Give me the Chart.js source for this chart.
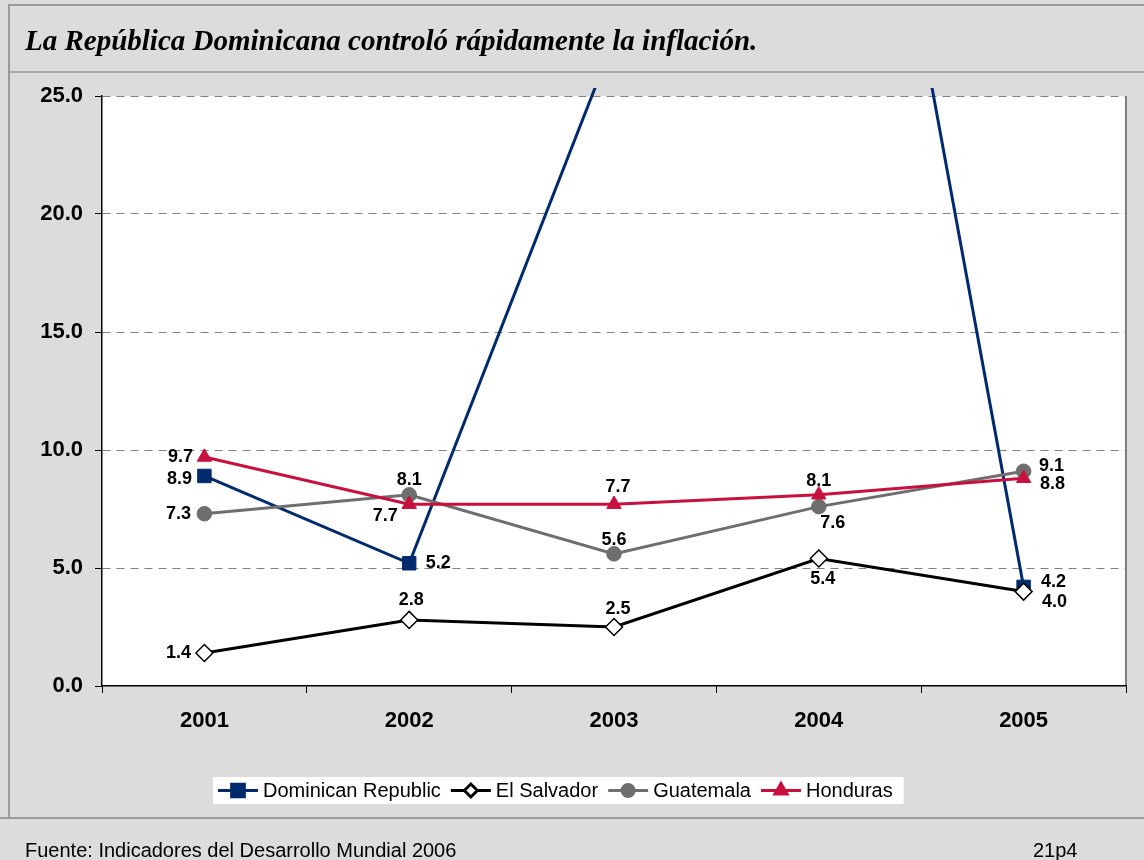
<!DOCTYPE html>
<html>
<head>
<meta charset="utf-8">
<script src="https://cdn.jsdelivr.net/npm/chart.js@4.4.1/dist/chart.umd.min.js"></script>
<style>
body{margin:0;background:#dcdcdc;width:1144px;height:860px;overflow:hidden;position:relative;font-family:"Liberation Sans",Arial,sans-serif}
#chartP{position:absolute;left:0;top:0}
#title{position:absolute;left:25px;top:26px;font:italic bold 29px/29px "Liberation Serif","Times New Roman",serif;color:#000;white-space:nowrap}
.foot{position:absolute;top:840px;font-size:20px;line-height:20px;color:#000;white-space:nowrap}
</style>
</head>
<body>
<canvas id="chartP" width="1144" height="860"></canvas>
<div id="title">La República Dominicana controló rápidamente la inflación.</div>
<div class="foot" style="left:25px">Fuente: Indicadores del Desarrollo Mundial 2006</div>
<div class="foot" style="left:1033px">21p4</div>
<script>
// data
var years=['2001','2002','2003','2004','2005'];
var seriesNames=['Dominican Republic','El Salvador','Guatemala','Honduras'];
var dominicanRep=[8.9,5.2,27.4,51.5,4.2];
var elSalvador=[1.4,2.8,2.5,5.4,4.0];
var guatemala=[7.3,8.1,5.6,7.6,9.1];
var honduras=[9.7,7.7,7.7,8.1,8.8];
var yTicks=[0,5,10,15,20,25];

var colors=['#002a6e','#000000','#6e6e6e','#c8103e'];
// where each value label sits relative to its point [dx,dy]
var labelOffsets=[
    [[-25,3],[29,0],null,null,[30,-5]],
    [[-26,0],[2,-20],[4,-18],[4,20],[31,10]],
    [[-26,0],[0,-15],[0,-14],[14,16],[28,-5]],
    [[-24,0],[-24,12],[4,-17],[0,-14],[29,6]]
];

var lineData=[dominicanRep,elSalvador,guatemala,honduras];
var pointStyles=['rect','rectRot','circle','triangle'];
var pointSizes=[9.5,8.5,7.3,8.3];
var datasets=[];
for(var i=0;i<seriesNames.length;i++){
    datasets.push({
        label:seriesNames[i],
        data:lineData[i],
        borderColor:colors[i],
        backgroundColor:i==1?'#ffffff':colors[i],
        pointBorderColor:colors[i],
        pointBackgroundColor:i==1?'#ffffff':colors[i],
        borderWidth:3,
        pointStyle:pointStyles[i],
        pointRadius:pointSizes[i],
        pointBorderWidth:i==1?1.5:1,
        tension:0,
        order:4-i,
        clip:{left:0,top:8,right:0,bottom:0}
    });
}

var framePlugin={
    id:'frame',
    beforeDraw:function(chart){
        var ctx=chart.ctx, a=chart.chartArea;
        ctx.save();
        ctx.fillStyle='#ffffff';
        ctx.fillRect(a.left,a.top,a.right-a.left,a.bottom-a.top);
        ctx.strokeStyle='#9a9a9a';
        ctx.lineWidth=2;
        ctx.beginPath();
        ctx.moveTo(9,818);ctx.lineTo(9,5);ctx.lineTo(1144,5);
        ctx.moveTo(0,818);ctx.lineTo(1144,818);
        ctx.stroke();
        ctx.lineWidth=1.5;
        ctx.beginPath();ctx.moveTo(9,72);ctx.lineTo(1144,72);ctx.stroke();
        ctx.strokeStyle='#808080';
        ctx.lineWidth=2;
        ctx.beginPath();ctx.moveTo(a.right,a.top);ctx.lineTo(a.right,a.bottom);ctx.stroke();
        ctx.restore();
    }
};

var labelPlugin={
    id:'valueLabels',
    afterDatasetsDraw:function(chart){
        var ctx=chart.ctx, ymax=chart.scales.y.max;
        ctx.save();
        ctx.font='bold 18px "Liberation Sans", Arial, sans-serif';
        ctx.fillStyle='#000';
        ctx.textAlign='center';
        ctx.textBaseline='middle';
        chart.data.datasets.forEach(function(ds,di){
            var meta=chart.getDatasetMeta(di);
            ds.data.forEach(function(v,j){
                var off=labelOffsets[di][j];
                if(!off||v>ymax)return;
                var p=meta.data[j];
                ctx.fillText(v.toFixed(1),p.x+off[0],p.y+off[1]);
            });
        });
        ctx.restore();
    }
};

var legendPlugin={
    id:'boxLegend',
    afterDraw:function(chart){
        var ctx=chart.ctx;
        var x0=213, top=777, h=27, cy=top+h/2;
        ctx.save();
        ctx.font='20px "Liberation Sans", Arial, sans-serif';
        var w=6;
        seriesNames.forEach(function(n){w+=45+ctx.measureText(n).width+10;});
        ctx.fillStyle='#ffffff';
        ctx.fillRect(x0,top,w,h);
        var x=x0+5;
        var legSizes=[9,6.5,6,7];
        seriesNames.forEach(function(n,i){
            ctx.strokeStyle=colors[i];
            ctx.lineWidth=3;
            ctx.beginPath();ctx.moveTo(x,cy);ctx.lineTo(x+40,cy);ctx.stroke();
            ctx.fillStyle=i==1?'#ffffff':colors[i];
            ctx.strokeStyle=colors[i];
            Chart.helpers.drawPoint(ctx,{pointStyle:pointStyles[i],radius:legSizes[i],borderWidth:i==1?1.5:1,rotation:0},x+20,cy);
            ctx.fillStyle='#000';
            ctx.textAlign='left';
            ctx.textBaseline='middle';
            ctx.fillText(n,x+45,cy+1);
            x+=45+ctx.measureText(n).width+10;
        });
        ctx.restore();
    }
};

var ctx=document.getElementById('chartP');
var chartP=new Chart(ctx,{
    type:'line',
    data:{labels:years,datasets:datasets},
    options:{
        responsive:false,
        animation:false,
        devicePixelRatio:1,
        layout:{padding:{top:96,right:18,bottom:0,left:0}},
        plugins:{legend:{display:false},tooltip:{enabled:false},title:{display:false}},
        scales:{
            x:{
                offset:true,
                grid:{display:true,drawOnChartArea:false,drawTicks:true,tickLength:7,tickColor:'#000',offset:true},
                border:{color:'#000',width:1.5},
                ticks:{color:'#000',padding:15,font:{family:'"Liberation Sans", Arial, sans-serif',size:22,weight:'bold'}},
                afterFit:function(s){s.height=174;}
            },
            y:{
                min:0,max:25,
                afterBuildTicks:function(s){s.ticks=yTicks.map(function(v){return {value:v};});},
                grid:{
                    color:function(c){return c.tick&&c.tick.value===0?'rgba(0,0,0,0)':'#808080';},
                    lineWidth:1,tickColor:'#000',tickLength:7,tickBorderDash:[]
                },
                border:{color:'#000',width:1.5,dash:[8,6]},
                ticks:{color:'#000',padding:12,callback:function(v){return v.toFixed(1);},font:{family:'"Liberation Sans", Arial, sans-serif',size:22,weight:'bold'}},
                afterFit:function(s){s.width=102;}
            }
        }
    },
    plugins:[framePlugin,labelPlugin,legendPlugin]
});
</script>
</body>
</html>
